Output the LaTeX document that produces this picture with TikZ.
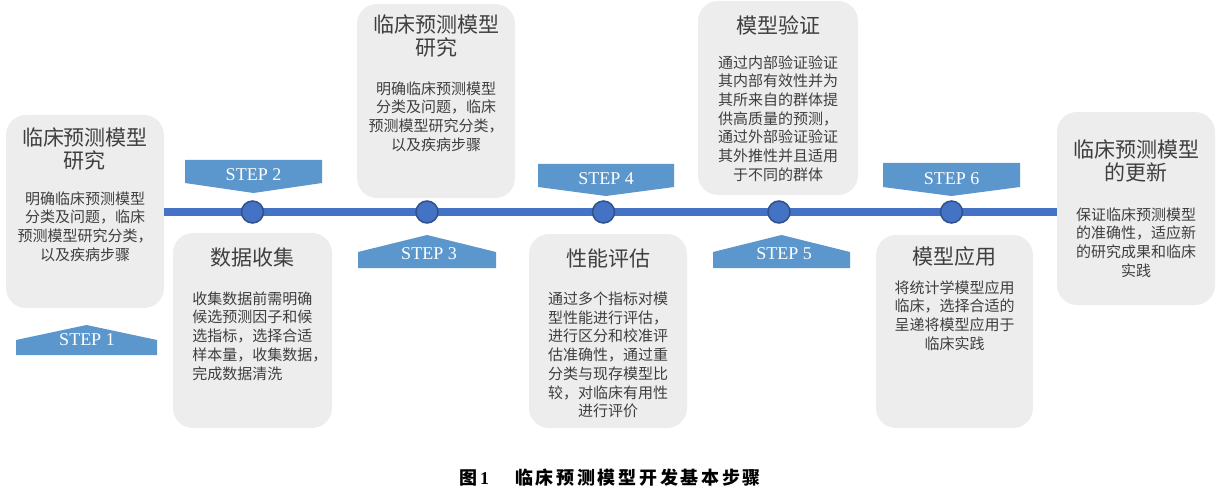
\documentclass[tikz,border=0pt]{standalone}
\usepackage{fontspec}
\setmainfont{Liberation Serif}
\newfontfamily\cjk{Noto Sans CJK SC}
\definecolor{boxgray}{HTML}{EDEDED}
\definecolor{txtgray}{HTML}{3F3F3F}
\definecolor{stepblue}{HTML}{5B97CD}
\definecolor{lineblue}{HTML}{4472C4}
\definecolor{dotedge}{HTML}{2F528F}
\begin{document}
\begin{tikzpicture}[x=1pt,y=-1pt,thick]
  \tikzstyle{box}=[fill=boxgray, rounded corners=20pt, inner sep=0pt]
  \tikzstyle{ttl}=[font=\cjk\fontsize{21}{23}\selectfont, text=txtgray, align=center, inner sep=0pt]
  \tikzstyle{body}=[font=\cjk\fontsize{15}{18.7}\selectfont, text=txtgray, align=center, inner sep=0pt]
  \tikzstyle{stepshape}=[fill=stepblue]
  \tikzstyle{steplabel}=[font=\fontsize{18}{20}\selectfont, text=white, inner sep=0pt]
  \tikzstyle{dot}=[circle, fill=lineblue, draw=dotedge, line width=1.5pt, minimum size=22pt, inner sep=0pt]
  \tikzstyle{tline}=[draw=lineblue, line width=8pt]

  \useasboundingbox (0,0) rectangle (1232,492);

  \node[box, minimum width=158pt, minimum height=193pt] (b1) at (85,211.5) {};
  \node[box, minimum width=159pt, minimum height=195pt] (b2) at (252.5,330.5) {};
  \node[box, minimum width=158pt, minimum height=194pt] (b3) at (436,101) {};
  \node[box, minimum width=158pt, minimum height=194pt] (b4) at (608,331) {};
  \node[box, minimum width=160pt, minimum height=194pt] (b5) at (778,98) {};
  \node[box, minimum width=157pt, minimum height=193pt] (b6) at (954.5,331.5) {};
  \node[box, minimum width=158pt, minimum height=193pt] (b7) at (1136,208.5) {};

  \draw[tline] (b1.east) -- (b1.east -| b7.west);

  \node[dot] (p2) at (252.5,212) {};
  \node[dot] (p3) at (427,212) {};
  \node[dot] (p4) at (603.5,212) {};
  \node[dot] (p5) at (779,212) {};
  \node[dot] (p6) at (951.5,212) {};

  \fill[stepshape] (16,355) -- (16,340) -- (86.5,325) -- (157,340) -- (157,355) -- cycle;
  \fill[stepshape] (185,160) -- (322,160) -- (322,183) -- (253.5,193) -- (185,183) -- cycle;
  \fill[stepshape] (358,268) -- (358,252) -- (427,235) -- (496,252) -- (496,268) -- cycle;
  \fill[stepshape] (538,164) -- (674,164) -- (674,187) -- (606,196) -- (538,187) -- cycle;
  \fill[stepshape] (713,268) -- (713,252) -- (781.5,235) -- (850,252) -- (850,268) -- cycle;
  \fill[stepshape] (883,163) -- (1020,163) -- (1020,187) -- (951.5,196) -- (883,187) -- cycle;

  \node[steplabel] (s1) at (87,340) {STEP 1};
  \node[steplabel] (s2) at (253.5,175) {STEP 2};
  \node[steplabel] (s3) at (429,253.5) {STEP 3};
  \node[steplabel] (s4) at (606,178.5) {STEP 4};
  \node[steplabel] (s5) at (784,253.5) {STEP 5};
  \node[steplabel] (s6) at (951.5,178.5) {STEP 6};

  \node[ttl] (t1) at (85,149) {临床预测模型\\研究};
  \node[body] (d1) at (85,226.5) {明确临床预测模型\\分类及问题，临床\\预测模型研究分类，\\以及疾病步骤};

  \node[ttl] (t2) at (252.5,258) {数据收集};
  \node[body, align=left, anchor=west] (d2) at (192,336) {收集数据前需明确\\候选预测因子和候\\选指标，选择合适\\样本量，收集数据，\\完成数据清洗};

  \node[ttl] (t3) at (436,36.5) {临床预测模型\\研究};
  \node[body] (d3) at (436,116.5) {明确临床预测模型\\分类及问题，临床\\预测模型研究分类，\\以及疾病步骤};

  \node[ttl] (t4) at (608,258) {性能评估};
  \node[body] (d4) at (608,355) {通过多个指标对模\\型性能进行评估，\\进行区分和校准评\\估准确性，通过重\\分类与现存模型比\\较，对临床有用性\\进行评价};

  \node[ttl] (t5) at (778,25) {模型验证};
  \node[body] (d5) at (778,118.5) {通过内部验证验证\\其内部有效性并为\\其所来自的群体提\\供高质量的预测，\\通过外部验证验证\\其外推性并且适用\\于不同的群体};

  \node[ttl] (t6) at (954.5,257) {模型应用};
  \node[body] (d6) at (954.5,315.5) {将统计学模型应用\\临床，选择合适的\\呈递将模型应用于\\临床实践};

  \node[ttl] (t7) at (1136,161) {临床预测模型\\的更新};
  \node[body] (d7) at (1136,242.5) {保证临床预测模型\\的准确性，适应新\\的研究成果和临床\\实践};

  \node[font=\cjk\bfseries\fontsize{18}{20}\selectfont, inner sep=0pt] (cap) at (610,478)
    {图\,{\rmfamily\bfseries 1}\hspace{26pt}{\addfontfeature{LetterSpace=15}临床预测模型开发基本步骤}};
\end{tikzpicture}
\end{document}
